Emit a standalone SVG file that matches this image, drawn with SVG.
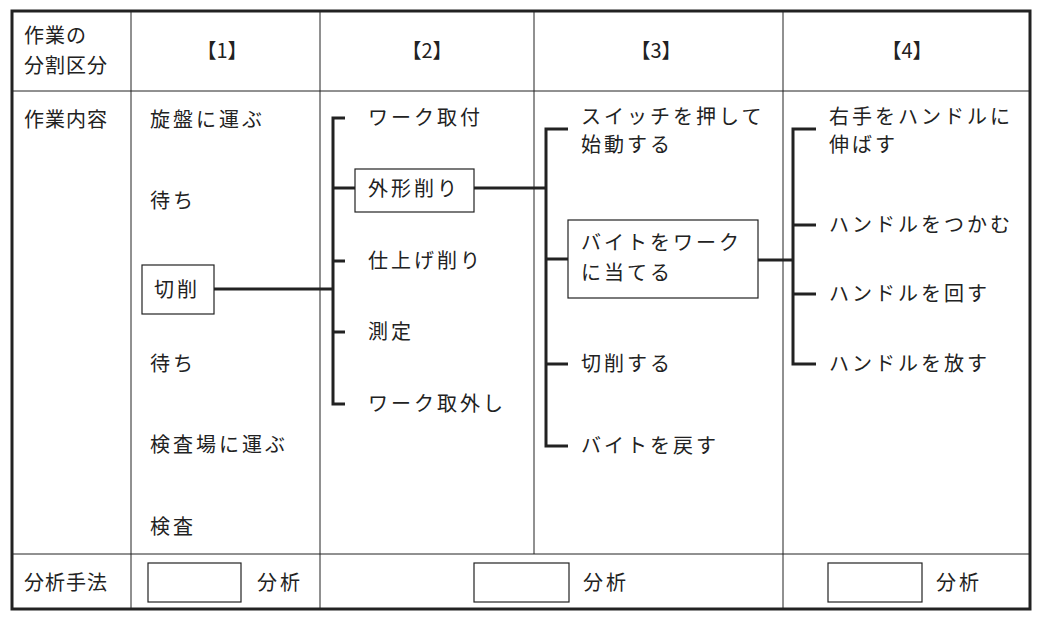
<svg xmlns="http://www.w3.org/2000/svg" width="1042" height="637" viewBox="0 0 1042 637">
<style>
text{font-family:"Noto Sans CJK JP",sans-serif;font-size:20px;fill:#222;letter-spacing:3px}
.h{text-anchor:middle;letter-spacing:0}
.thin{stroke:#222;stroke-width:1;fill:none}
.thick{stroke:#222;stroke-width:3;fill:none}
.box{stroke:#222;stroke-width:1.2;fill:#fff}
</style>
<rect width="1042" height="637" fill="#fff"/>
<g id="table">
<rect x="12" y="11" width="1018" height="598" class="thick"/>
<line x1="12" y1="91" x2="1030" y2="91" class="thin" stroke-width="2"/>
<line x1="12" y1="554" x2="1030" y2="554" class="thin" stroke-width="2"/>
<line x1="131" y1="11" x2="131" y2="609" class="thin" stroke-width="2"/>
<line x1="320" y1="11" x2="320" y2="609" class="thin"/>
<line x1="534" y1="11" x2="534" y2="554" class="thin"/>
<line x1="783" y1="11" x2="783" y2="609" class="thin"/>
<text x="24" y="43" style="letter-spacing:1px">作業の</text>
<text x="24" y="73" style="letter-spacing:1px">分割区分</text>
<text x="24" y="127" style="letter-spacing:1px">作業内容</text>
<text x="24" y="590" style="letter-spacing:1px">分析手法</text>
<text class="h" x="222" y="58">【1】</text>
<text class="h" x="427" y="58">【2】</text>
<text class="h" x="656" y="58">【3】</text>
<text class="h" x="907" y="58">【4】</text>
<rect x="148" y="563" width="93" height="39" class="box"/><text x="257" y="590">分析</text>
<rect x="474" y="563" width="95" height="39" class="box"/><text x="583" y="590">分析</text>
<rect x="828" y="563" width="94" height="39" class="box"/><text x="936" y="590">分析</text>
</g>
<g id="connectors">
<path class="thick" d="M214 289H333M345 118H333V404H345M333 188H355M333 261H345M333 332H345"/>
<path class="thick" d="M474 188H546M568 129H546V446H568M546 259H568M546 364H568"/>
<path class="thick" d="M758 260H793M816 129H793V364H816M793 225H816M793 294H816"/>
</g>
<g id="col1">
<text x="150" y="127">旋盤に運ぶ</text>
<text x="150" y="208">待ち</text>
<rect x="142" y="265" width="72" height="49" class="box"/><text x="154" y="297">切削</text>
<text x="150" y="371">待ち</text>
<text x="150" y="452">検査場に運ぶ</text>
<text x="150" y="534">検査</text>
</g>
<g id="col2">
<text x="368" y="125">ワーク取付</text>
<rect x="355" y="169" width="119" height="43" class="box"/><text x="368" y="196">外形削り</text>
<text x="368" y="268">仕上げ削り</text>
<text x="368" y="339">測定</text>
<text x="368" y="411">ワーク取外し</text>
</g>
<g id="col3">
<text x="581" y="124">スイッチを押して</text>
<text x="581" y="152">始動する</text>
<rect x="568" y="220" width="190" height="78" class="box"/>
<text x="581" y="250">バイトをワーク</text>
<text x="581" y="280">に当てる</text>
<text x="581" y="371">切削する</text>
<text x="581" y="453">バイトを戻す</text>
</g>
<g id="col4">
<text x="829" y="124">右手をハンドルに</text>
<text x="829" y="152">伸ばす</text>
<text x="829" y="232">ハンドルをつかむ</text>
<text x="829" y="301">ハンドルを回す</text>
<text x="829" y="371">ハンドルを放す</text>
</g>
</svg>
